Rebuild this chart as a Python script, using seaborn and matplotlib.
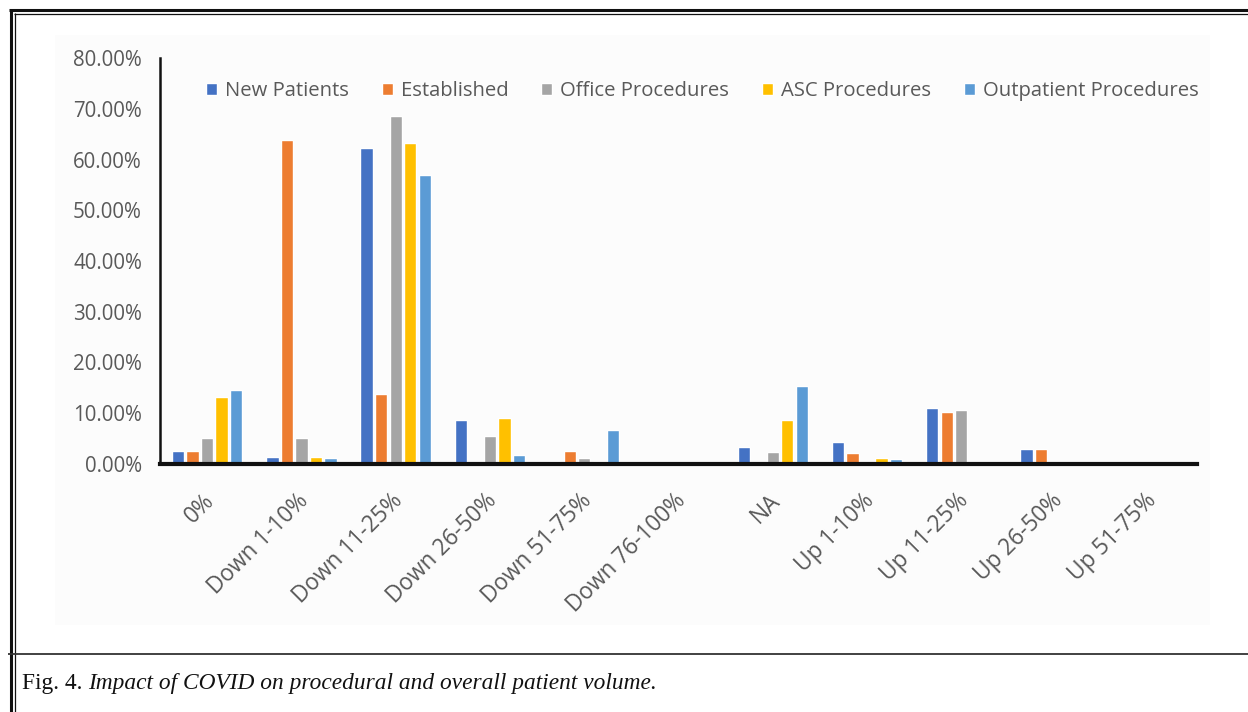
import numpy as np
import pandas as pd
import seaborn as sns
import matplotlib.pyplot as plt
import matplotlib.transforms as mtransforms
from matplotlib.lines import Line2D
from matplotlib.patches import Rectangle

# Share of responses per change bucket (%)
categories = ["0%", "Down 1-10%", "Down 11-25%", "Down 26-50%", "Down 51-75%",
              "Down 76-100%", "NA", "Up 1-10%", "Up 11-25%", "Up 26-50%", "Up 51-75%"]
series_names = ["New Patients", "Established", "Office Procedures",
                "ASC Procedures", "Outpatient Procedures"]
new_patients = [2.6, 1.4, 62.2, 8.6, 0.6, 0.0, 3.4, 4.3, 11.0, 3.0, 0.4]
established = [2.6, 63.8, 13.8, 0.0, 2.6, 0.0, 0.0, 2.2, 10.2, 3.0, 0.0]
office_procedures = [5.1, 5.1, 68.6, 5.5, 1.1, 0.0, 2.3, 0.0, 10.6, 0.0, 0.0]
asc_procedures = [13.2, 1.4, 63.3, 9.0, 0.5, 0.0, 8.6, 1.2, 0.3, 0.0, 0.0]
outpatient_procedures = [14.5, 1.1, 57.0, 1.8, 6.7, 0.0, 15.4, 1.0, 0.0, 0.0, 0.0]
palette = ["#4472C4", "#ED7D31", "#A5A5A5", "#FFC000", "#5B9BD5"]

frames = []
for name, vals in zip(series_names, [new_patients, established, office_procedures,
                                     asc_procedures, outpatient_procedures]):
    frames.append(pd.DataFrame({"bucket": categories, "series": name, "value": vals}))
df = pd.concat(frames, ignore_index=True)

sns.set_theme(style="white")
plt.rcParams["font.family"] = ["Open Sans", "DejaVu Sans"]

W, H = 1248, 712
fig = plt.figure(figsize=(W / 100, H / 100), dpi=100)

# very faint panel behind the chart
fig.add_artist(Rectangle((55 / W, 1 - 625 / H), (1210 - 55) / W, (625 - 35) / H,
                         transform=fig.transFigure, facecolor="#fcfcfc",
                         edgecolor="none", zorder=0))

ax = fig.add_axes([160 / W, 1 - 464 / H, 1037 / W, (464 - 58) / H])
ax.set_facecolor("none")
sns.barplot(data=df, x="bucket", y="value", hue="series", order=categories,
            hue_order=series_names, palette=palette, width=0.77, gap=0.15,
            saturation=1, ax=ax, legend=True)

ax.set_xlim(-0.5, len(categories) - 0.5)
ax.set_ylim(0, 80)
ax.set_yticks(np.arange(0, 81, 10))
ax.set_yticklabels([f"{v:.2f}%" for v in np.arange(0, 81, 10)])
ax.set_xlabel("")
ax.set_ylabel("")
ax.tick_params(axis="y", length=0, pad=13, labelsize=14.8, labelcolor="#595959")
ax.tick_params(axis="x", length=0, pad=18, labelsize=16.3, labelcolor="#595959")
shift = mtransforms.ScaledTranslation(-5 / 100, 0, fig.dpi_scale_trans)
for lbl in ax.get_xticklabels():
    lbl.set_rotation(45)
    lbl.set_ha("right")
    lbl.set_rotation_mode("anchor")
    lbl.set_transform(lbl.get_transform() + shift)

for side in ["top", "right"]:
    ax.spines[side].set_visible(False)
ax.spines["left"].set_color("#111111")
ax.spines["left"].set_linewidth(1.8)
ax.spines["bottom"].set_color("#111111")
ax.spines["bottom"].set_linewidth(3)
ax.grid(False)

leg = ax.legend(loc="center", bbox_to_anchor=(0.523, 0.919), ncol=5, frameon=False,
                fontsize=14.6, handlelength=0.55, handleheight=0.55, handletextpad=0.4,
                columnspacing=1.6, borderaxespad=0)
for t in leg.get_texts():
    t.set_color("#595959")

# page frame: double rule at left and top, divider above the caption
def fline(x0, y0, x1, y1, lw, color="#111111"):
    fig.add_artist(Line2D([x0 / W, x1 / W], [1 - y0 / H, 1 - y1 / H],
                          transform=fig.transFigure, color=color, lw=lw,
                          solid_capstyle="butt"))

fline(10.5, 9, 10.5, H, 2.2)
fline(14.5, 13, 14.5, H, 0.9)
fline(9, 10, W, 10, 2.2)
fline(13.5, 14, W, 14, 0.9)
fline(8, 654, W, 654, 1.3, "#333333")

# caption
cap1 = fig.text(22 / W, 1 - 684 / H, "Fig. 4.", family="Liberation Serif",
                fontsize=16.8, color="#111111", va="center")
fig.canvas.draw()
bb = cap1.get_window_extent()
fig.text((bb.x1 + 6) / W, 1 - 684 / H,
         "Impact of COVID on procedural and overall patient volume.",
         family="Liberation Serif", style="italic", fontsize=16.8,
         color="#111111", va="center")

fig.savefig("out.png", dpi=100)
